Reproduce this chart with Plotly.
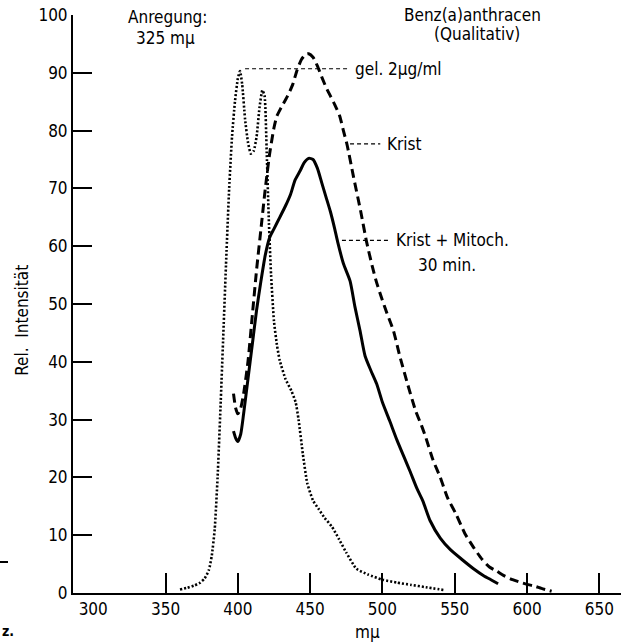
import plotly.graph_objects as go

# Fluorescence emission of Benz(a)anthracen, excitation 325 mμ
# gel. 2μg/ml (dotted)
wl_gel = [360, 365, 370, 374, 377, 380, 382, 384, 386, 388, 390, 392, 394, 396, 398,
          400, 401.5, 403, 405, 407, 409, 411, 413, 415, 417, 418.5, 420, 421.5, 423,
          425, 427, 429, 433, 437, 440, 442, 445, 448, 452, 456, 460, 465, 470, 475,
          482, 490, 500, 510, 520, 530, 543]
int_gel = [0.6, 0.9, 1.3, 1.8, 2.5, 4, 6.5, 11, 20, 32, 45, 58, 70, 79, 85,
           89, 90.3, 88, 82, 78, 76, 76.5, 79, 84, 87, 86, 76, 64, 55,
           47, 43, 40.2, 37, 35, 33, 30, 24, 19, 16, 14.5, 13, 11.5, 9.3, 7,
           4.2, 3.2, 2.3, 1.8, 1.4, 1.0, 0.5]

# Krist (dashed)
wl_krist = [397, 398.5, 400, 402, 404, 407, 410, 413, 416, 419, 422, 425, 427, 430,
            434, 438, 441, 444, 447, 449, 452, 455, 458, 461, 464, 467, 470.5, 473,
            475.5, 480, 485, 489, 493, 496, 499.5, 503, 507.6, 512, 517, 523, 527,
            530, 535, 540, 545, 551, 557, 563, 569, 574, 579, 584, 590, 596, 600,
            605, 610, 617]
int_krist = [34.5, 32, 31, 32, 34.5, 40, 48, 56, 63, 70, 76, 80.5, 82.5, 84,
             85.8, 88, 90.5, 92.3, 93.2, 93.3, 92.7, 91.2, 89.3, 87.5, 86, 84.5, 82.5, 80,
             77.6, 72, 66, 60.8, 56.5, 53.7, 51, 48.5, 45.4, 41, 36.5, 31.5, 29,
             26.9, 23, 20, 16.5, 13.6, 10.3, 7.9, 5.8, 4.5, 3.8, 3.0, 2.3, 1.8, 1.5,
             1.2, 0.8, 0.3]

# Krist + Mitoch. 30 min. (solid)
wl_mito = [397, 398.5, 400, 402, 404, 407, 410, 413, 416, 419, 422, 425, 429, 433,
           436.5, 439.5, 443, 446, 449, 452, 455, 458, 461, 464, 467, 469, 473,
           477.6, 481, 484.5, 488, 492, 496, 500, 505, 510, 515, 519, 524, 528,
           533, 540, 547, 555, 563, 570, 575, 580]
int_mito = [28, 26.8, 26.2, 27.5, 31, 37, 43, 49, 54, 58.5, 61.5, 63, 65, 67,
            69, 71.4, 73, 74.5, 75.2, 75, 73.5, 71, 68.5, 66, 63, 60.8, 57,
            54, 49.5, 45.4, 41, 38.5, 36.2, 33, 29.8, 26.5, 23.5, 21.1, 18, 15.9,
            12.5, 9.5, 7.5, 5.8, 4.2, 3.0, 2.3, 1.6]

x_tick_labels = [300, 350, 400, 450, 500, 550, 600, 650]
x_tick_marks = [350, 400, 450, 500, 550, 600, 650]
y_ticks = [0, 10, 20, 30, 40, 50, 60, 70, 80, 90, 100]

FONT = "Liberation Sans Narrow, DejaVu Sans Condensed, sans-serif"
X_RANGE = [286, 665]

fig = go.Figure()

fig.add_trace(go.Scatter(x=wl_gel, y=int_gel, mode="lines",
                         line=dict(color="black", width=2.6, dash="2px,2px",
                                   shape="spline", smoothing=0.5)))
fig.add_trace(go.Scatter(x=wl_krist, y=int_krist, mode="lines",
                         line=dict(color="black", width=3, dash="9px,5px",
                                   shape="spline", smoothing=0.6)))
fig.add_trace(go.Scatter(x=wl_mito, y=int_mito, mode="lines",
                         line=dict(color="black", width=3,
                                   shape="spline", smoothing=0.6)))

# leader lines from the curves to their labels
leaders = [([405, 477], 90.7), ([477.6, 498.5], 77.7), ([472, 505.2], 61.0)]
for xs, yv in leaders:
    fig.add_trace(go.Scatter(x=xs, y=[yv, yv], mode="lines", xaxis="x2",
                             line=dict(color="black", width=1.2, dash="4px,3px")))

txt = dict(family=FONT, size=17, color="black")
annotations = [
    dict(x=322.7, y=99.65, text="Anregung:", xanchor="left"),
    dict(x=328.2, y=96.0, text="325 mμ", xanchor="left"),
    dict(x=562.3, y=100.0, text="Benz(a)anthracen", xanchor="center"),
    dict(x=565.1, y=96.8, text="(Qualitativ)", xanchor="center"),
    dict(x=479.5, y=90.6, text="gel. 2μg/ml", xanchor="left"),
    dict(x=502.0, y=77.7, text="Krist", xanchor="left"),
    dict(x=508.2, y=61.0, text="Krist + Mitoch.", xanchor="left"),
    dict(x=544.7, y=56.8, text="30 min.", xanchor="center"),
]
for a in annotations:
    fig.add_annotation(xref="x", yref="y", yanchor="middle", showarrow=False,
                       font=txt, **a)

fig.add_annotation(xref="paper", yref="paper", x=-0.093, y=0.471,
                   text="Rel.\u00a0\u00a0Intensität", textangle=-90,
                   showarrow=False, font=txt, xanchor="center", yanchor="middle")
fig.add_annotation(xref="paper", yref="paper", x=0.538, y=-0.0675, text="mμ",
                   showarrow=False, font=txt, xanchor="center", yanchor="middle")
fig.add_annotation(xref="paper", yref="paper", x=-0.1332, y=-0.066, text="<b>z.</b>",
                   showarrow=False, font=dict(family=FONT, size=14, color="black"),
                   xanchor="left", yanchor="middle")
fig.add_shape(type="line", xref="paper", yref="paper", x0=-0.1332, x1=-0.1186,
              y0=0.0536, y1=0.0536, line=dict(color="black", width=2))

fig.update_layout(
    width=621, height=642,
    margin=dict(l=73, r=0, t=15, b=49),
    paper_bgcolor="white", plot_bgcolor="white",
    showlegend=False,
    font=dict(family=FONT, size=17, color="black"),
    xaxis=dict(range=X_RANGE, tickvals=x_tick_labels, ticks="",
               showline=True, linecolor="black", linewidth=2,
               showgrid=False, zeroline=False,
               tickfont=dict(family=FONT, size=17, color="black")),
    xaxis2=dict(range=X_RANGE, overlaying="x", anchor="y", tickvals=x_tick_marks,
                ticks="inside", ticklen=20, tickwidth=1.6, tickcolor="black",
                showticklabels=False, showline=False, showgrid=False, zeroline=False),
    yaxis=dict(range=[0, 100], tickvals=y_ticks, ticks="inside", ticklen=19,
               tickwidth=1.6, tickcolor="black",
               showline=True, linecolor="black", linewidth=2,
               showgrid=False, zeroline=False,
               tickfont=dict(family=FONT, size=17, color="black")),
)

fig.write_html("out.html")
